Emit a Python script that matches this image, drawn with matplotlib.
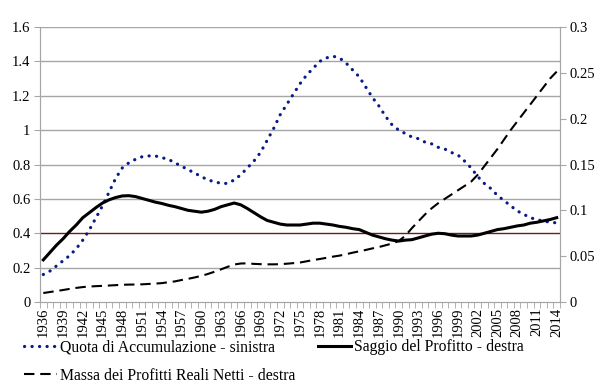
import numpy as np
import matplotlib
matplotlib.use('Agg')
import matplotlib.pyplot as plt

plt.rcParams['font.family'] = ['Liberation Serif', 'DejaVu Serif']

years = list(range(1936, 2015))

# Quota di Accumulazione - asse sinistro
quota = [0.16, 0.18, 0.21, 0.24, 0.27, 0.31, 0.36, 0.42, 0.49, 0.56,
         0.64, 0.72, 0.78, 0.81, 0.83, 0.845, 0.85, 0.85, 0.84, 0.83,
         0.81, 0.79, 0.77, 0.75, 0.73, 0.71, 0.70, 0.69, 0.69, 0.71,
         0.74, 0.78, 0.82, 0.87, 0.94, 1.01, 1.09, 1.15, 1.21, 1.27,
         1.32, 1.36, 1.40, 1.42, 1.43, 1.42, 1.39, 1.35, 1.31, 1.25,
         1.19, 1.14, 1.08, 1.03, 1.00, 0.98, 0.96, 0.95, 0.93, 0.92,
         0.90, 0.89, 0.87, 0.855, 0.82, 0.78, 0.73, 0.69, 0.66, 0.62,
         0.59, 0.56, 0.53, 0.51, 0.49, 0.48, 0.47, 0.465, 0.46]

# Saggio del Profitto - asse destro
saggio = [0.046, 0.054, 0.062, 0.069, 0.077, 0.084, 0.092, 0.0975, 0.103, 0.108,
          0.1115, 0.114, 0.1157, 0.116, 0.115, 0.113, 0.111, 0.109, 0.1075, 0.1055,
          0.104, 0.102, 0.100, 0.099, 0.098, 0.099, 0.101, 0.104, 0.106, 0.108,
          0.106, 0.102, 0.0975, 0.093, 0.089, 0.087, 0.085, 0.084, 0.084, 0.084,
          0.085, 0.086, 0.086, 0.085, 0.084, 0.0825, 0.0815, 0.080, 0.079, 0.076,
          0.073, 0.071, 0.069, 0.0675, 0.0665, 0.0675, 0.068, 0.070, 0.072, 0.074,
          0.075, 0.0745, 0.073, 0.072, 0.072, 0.072, 0.073, 0.075, 0.077, 0.079,
          0.080, 0.0815, 0.083, 0.084, 0.086, 0.087, 0.0885, 0.090, 0.092]

# Massa dei Profitti Reali Netti - asse destro
massa = [0.0098, 0.0109, 0.012, 0.0131, 0.0143, 0.0154, 0.0163, 0.0169, 0.0173, 0.0176,
         0.018, 0.0184, 0.0188, 0.019, 0.0191, 0.0193, 0.0197, 0.0201, 0.0206, 0.0216,
         0.0225, 0.024, 0.0253, 0.0268, 0.0285, 0.0306, 0.033, 0.0356, 0.0384, 0.0409,
         0.042, 0.0422, 0.0416, 0.0413, 0.0411, 0.0411, 0.0413, 0.0418, 0.0424, 0.0431,
         0.0444, 0.0458, 0.0469, 0.0482, 0.0495, 0.0506, 0.0521, 0.0538, 0.0553, 0.0568,
         0.0585, 0.060, 0.0619, 0.0638, 0.0666, 0.0722, 0.0806, 0.0881, 0.0956, 0.1022,
         0.1078, 0.1125, 0.1172, 0.1219, 0.1266, 0.1313, 0.1388, 0.1481, 0.1575, 0.1669,
         0.1772, 0.1875, 0.1969, 0.2063, 0.2156, 0.225, 0.2344, 0.2438, 0.2513]

left_ticks = [0, 0.2, 0.4, 0.6, 0.8, 1, 1.2, 1.4, 1.6]
left_labels = ['0', '0.2', '0.4', '0.6', '0.8', '1', '1.2', '1.4', '1.6']
right_ticks = [0, 0.05, 0.1, 0.15, 0.2, 0.25, 0.3]
right_labels = ['0', '0.05', '0.1', '0.15', '0.2', '0.25', '0.3']

fig = plt.figure(figsize=(6, 3.9), dpi=100)
ax = fig.add_axes([0.0667, 0.2256, 0.8666, 0.7052])
ax2 = ax.twinx()

gray = '#a6a6a6'
ax.set_ylim(0, 1.6)
ax.set_xlim(1935.5, 2014.5)
for v in left_ticks[1:]:
    col = '#6b1c1c' if v == 0.4 else gray
    ax.axhline(v, color=col, lw=1.0, zorder=0)

l1, = ax.plot(years, quota, color='#08198a', lw=2.3, ls=(0, (0.05, 2.3)),
              dash_capstyle='round', label='Quota di Accumulazione - sinistra')
ax2.set_ylim(0, 0.3)
l2, = ax2.plot(years, saggio, color='black', lw=2.2, label='Saggio del Profitto - destra')
l3, = ax2.plot(years, massa, color='black', lw=1.5, ls=(0, (5, 2.8)),
               label='Massa dei Profitti Reali Netti - destra')

ax.set_yticks(left_ticks)
ax.set_yticklabels(left_labels)
ax2.set_yticks(right_ticks)
ax2.set_yticklabels(right_labels)

ax.set_xticks(years[::3])
ax.set_xticklabels([str(y) for y in years[::3]], rotation=90)
ax.set_xticks(np.arange(1935.5, 2015, 1), minor=True)
ax.tick_params(axis='x', which='major', length=0, pad=4, labelsize=10.5)
ax.tick_params(axis='x', which='minor', length=4, color=gray)
ax.tick_params(axis='y', length=4, color=gray, labelsize=10.5, pad=3)
ax2.tick_params(axis='y', length=4, color=gray, labelsize=10.5, pad=3)

for a in (ax, ax2):
    a.spines['top'].set_visible(False)
    for s in ('left', 'right', 'bottom'):
        a.spines[s].set_color(gray)

fig.legend(handles=[l1, l3, l2], loc='upper left', bbox_to_anchor=(0.04, 0.13),
           ncol=2, frameon=False, fontsize=11.3, handlelength=2.1,
           handletextpad=0.2, columnspacing=1.45, labelspacing=0.8,
           borderaxespad=0, borderpad=0)

fig.savefig('out.png', dpi=100, facecolor='white')
